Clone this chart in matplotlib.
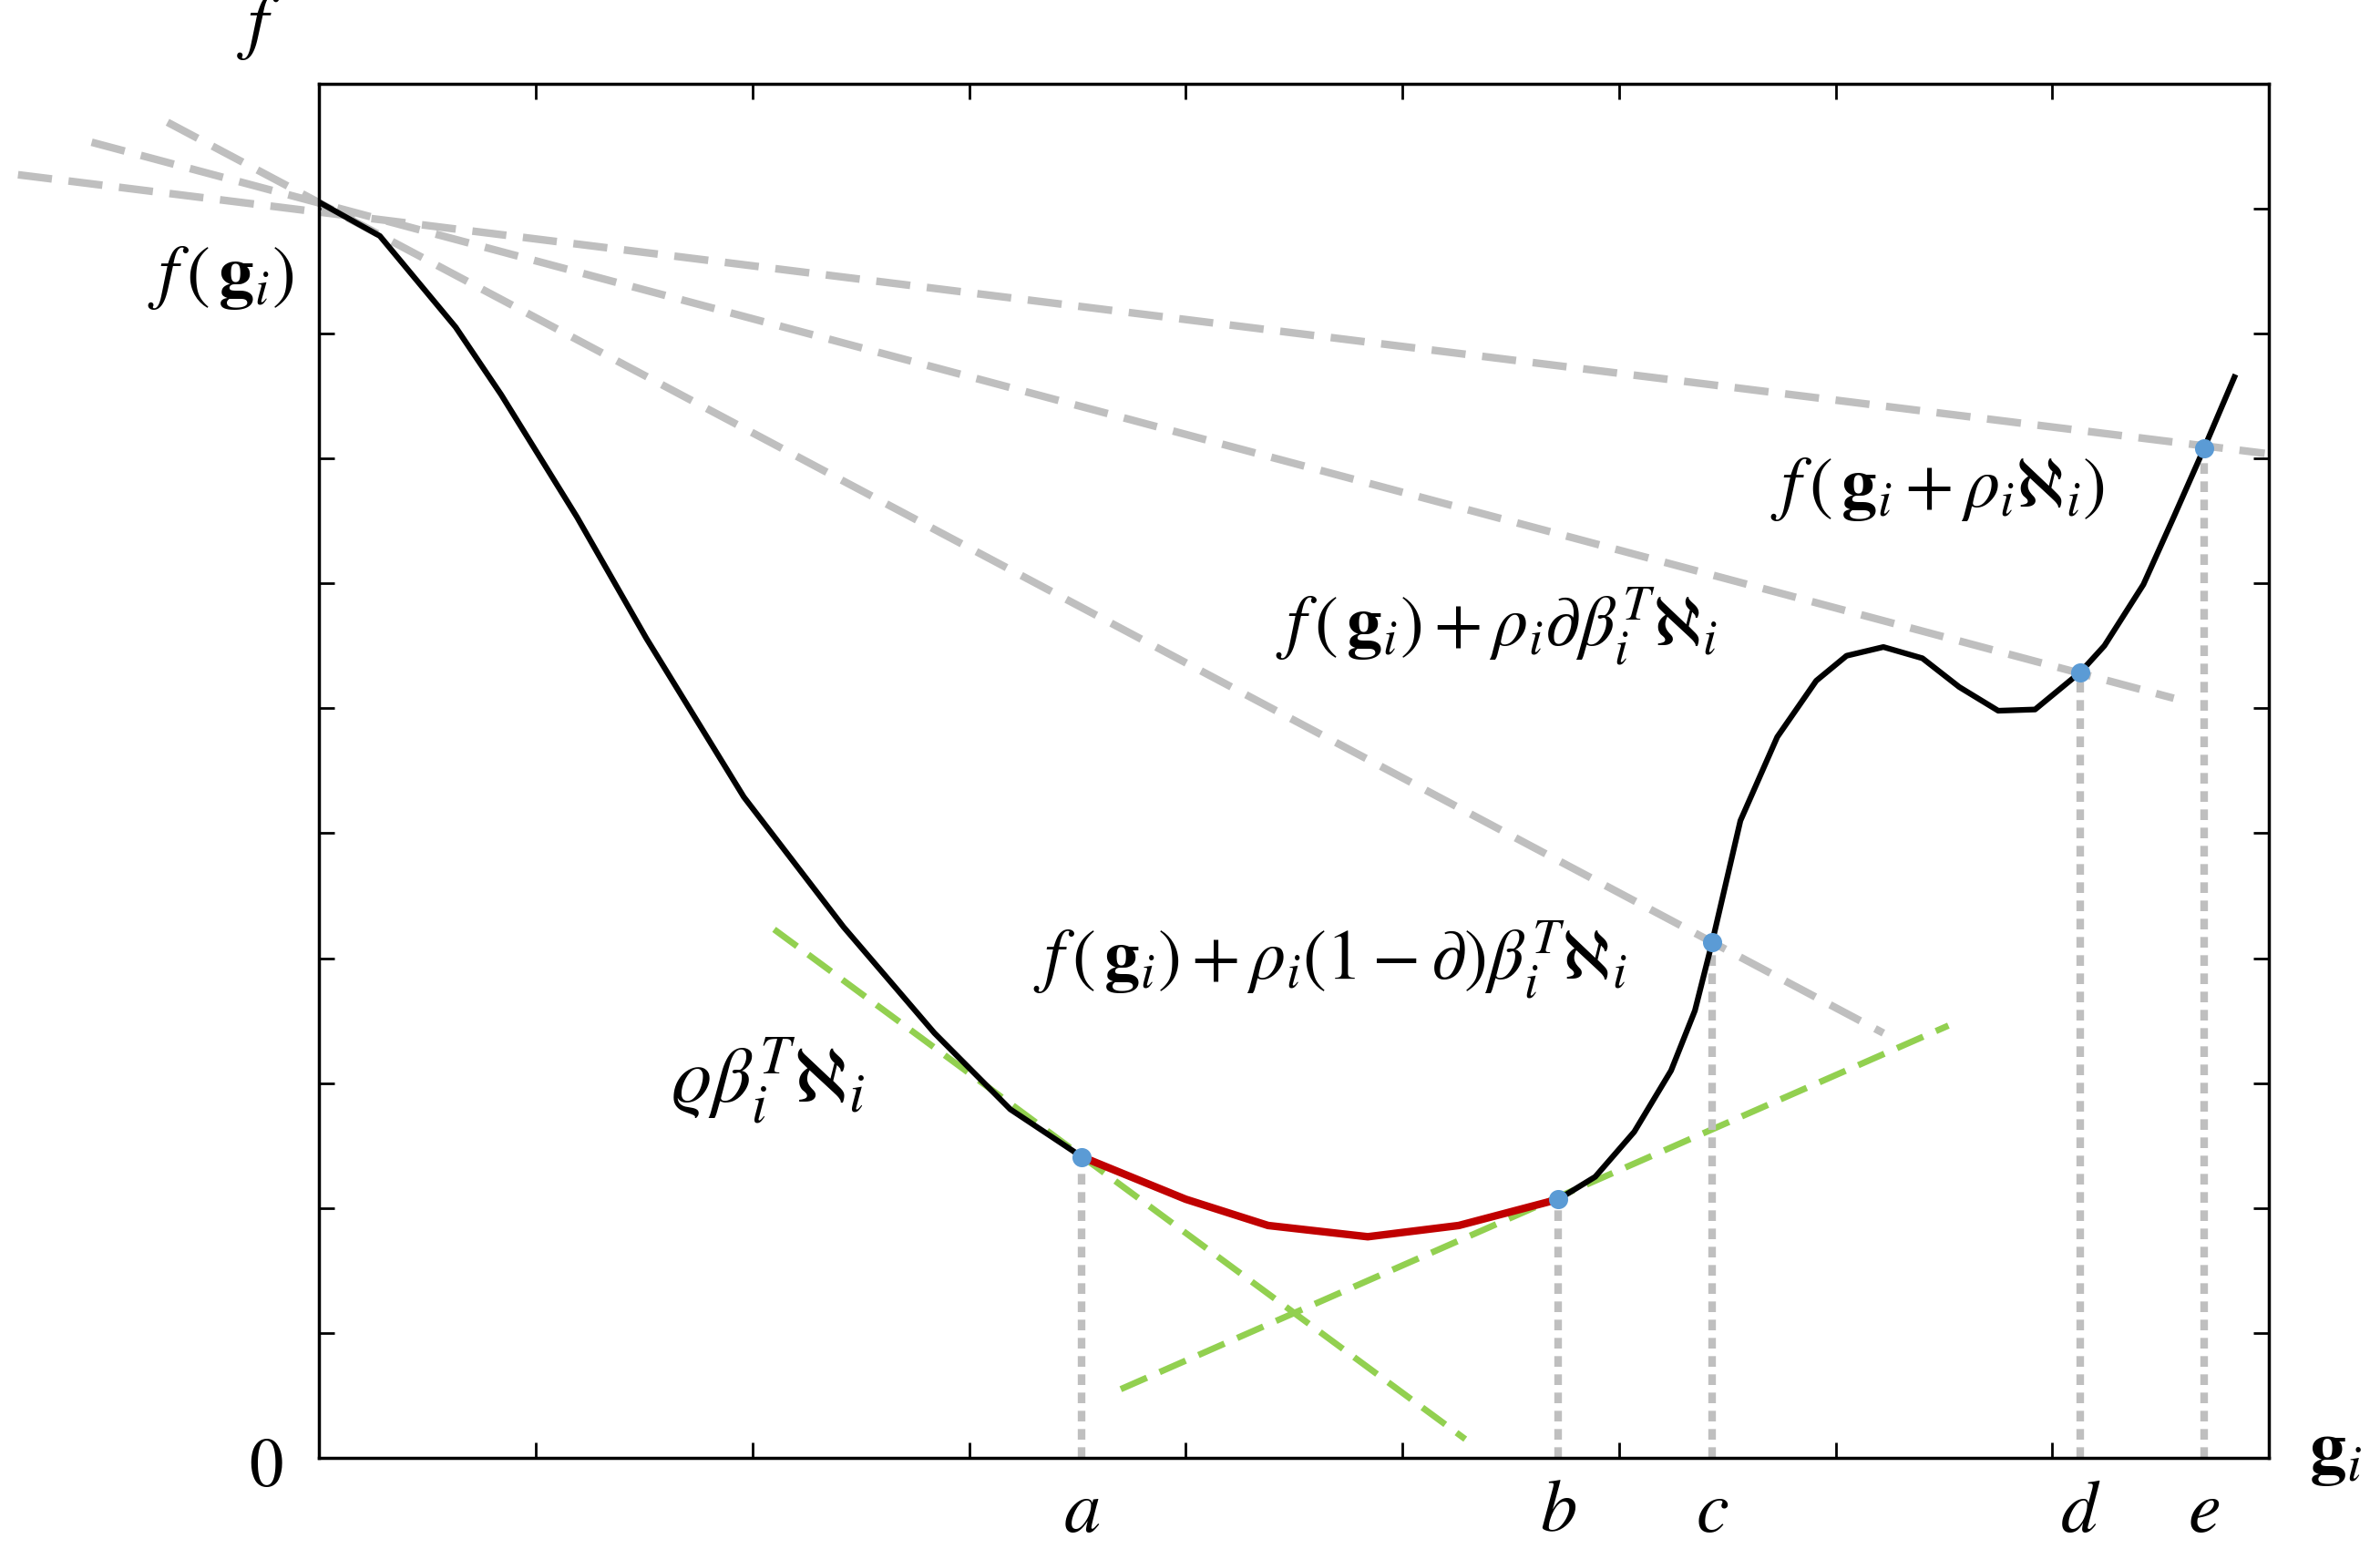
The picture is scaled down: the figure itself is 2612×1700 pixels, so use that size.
import matplotlib
matplotlib.use("Agg")
import matplotlib.pyplot as plt
import numpy as np

plt.rcParams['mathtext.fontset'] = 'stix'
plt.rcParams['font.family'] = ['STIXGeneral', 'DejaVu Serif']

curve_x = [0, 0.28, 0.63, 0.84, 1.19, 1.51, 1.96, 2.42, 2.84, 3.19, 3.52, 4.00, 4.38, 4.84, 5.26,
           5.72, 5.89, 6.07, 6.24, 6.35, 6.43, 6.56, 6.73, 6.91, 7.05, 7.22, 7.40, 7.57, 7.75,
           7.92, 8.13, 8.24, 8.42, 8.56, 8.70, 8.84]
curve_y = [10.05, 9.78, 9.05, 8.51, 7.53, 6.56, 5.29, 4.25, 3.40, 2.79, 2.41, 2.07, 1.86, 1.77, 1.86,
           2.07, 2.25, 2.61, 3.10, 3.58, 4.13, 5.10, 5.77, 6.22, 6.42, 6.49, 6.40, 6.17, 5.98,
           5.99, 6.29, 6.50, 6.99, 7.53, 8.08, 8.65]
red_start, red_end = 3.52, 5.72

point_names = ['a', 'b', 'c', 'd', 'e']
point_x = [3.52, 5.72, 6.43, 8.13, 8.70]
point_y = [2.41, 2.07, 4.13, 6.29, 8.08]

gray_lines = [((-1.39, 10.27), (8.98, 8.04)),
              ((-1.05, 10.53), (8.56, 6.08)),
              ((-0.70, 10.69), (7.22, 3.40))]
green_lines = [((2.10, 4.23), (5.29, 0.15)),
               ((3.70, 0.55), (7.52, 3.46))]

W, H = 1566, 1020
fig = plt.figure(figsize=(26.12, 17), dpi=100)
ax = fig.add_axes([210/W, 1-960/H, (1493-210)/W, (960-55)/H])
ax.set_xlim(0, 9)
ax.set_ylim(0, 11)
ax.set_xticks(np.arange(1, 9))
ax.set_yticks(np.arange(1, 11))
ax.tick_params(direction='in', length=12, width=2, top=True, right=True,
               labelbottom=False, labelleft=False)
for s in ax.spines.values():
    s.set_linewidth(2.5)

gray = '#bfbfbf'
for (x0, y0), (x1, y1) in gray_lines:
    ax.plot([x0, x1], [y0, y1], color=gray, lw=6, dashes=(4.5, 2.2), clip_on=False, zorder=2)
for (x0, y0), (x1, y1) in green_lines:
    ax.plot([x0, x1], [y0, y1], color='#92d050', lw=5, dashes=(4.5, 2.2), zorder=2)
for px, py in zip(point_x, point_y):
    ax.plot([px, px], [0, py], color=gray, lw=6, dashes=(1.4, 1.0), zorder=2)

cx = np.array(curve_x); cy = np.array(curve_y)
ax.plot(cx, cy, color='black', lw=4.5, zorder=3)
m = (cx >= red_start - 1e-9) & (cx <= red_end + 1e-9)
ax.plot(cx[m], cy[m], color='#c00000', lw=6, zorder=4)
ax.scatter(point_x, point_y, s=200, color='#5b9bd5', zorder=5)

for n, px in zip(point_names, point_x):
    ax.text(px, -0.45, f'${n}$', ha='center', va='center', fontsize=58)

def ft(x, y, s, fs=54, **kw):
    fig.text(x/W, 1-y/H, s, fontsize=fs, ha='center', va='center', **kw)

ft(170, 18, r'$f$', 58)
ft(175, 968, r'$0$', 54)
ft(1537, 958, r'$\mathbf{g}_i$', 58)
ft(145, 183, r'$f\,\left(\,\mathbf{g}_i\right)$', 56)
ft(1275, 322, r'$f\,\left(\,\mathbf{g}_i+\rho_i\aleph_i\right)$', 56)
ft(985, 412, r'$f\,\left(\,\mathbf{g}_i\right)+\rho_i\partial\beta_i^T\aleph_i$', 56)
ft(875, 632, r'$f\,\left(\,\mathbf{g}_i\right)+\rho_i\left(1-\partial\right)\beta_i^T\aleph_i$', 56)
ft(505, 712, r'$\varrho\beta_i^T\aleph_i$', 62)

fig.savefig('out.png', dpi=100)
